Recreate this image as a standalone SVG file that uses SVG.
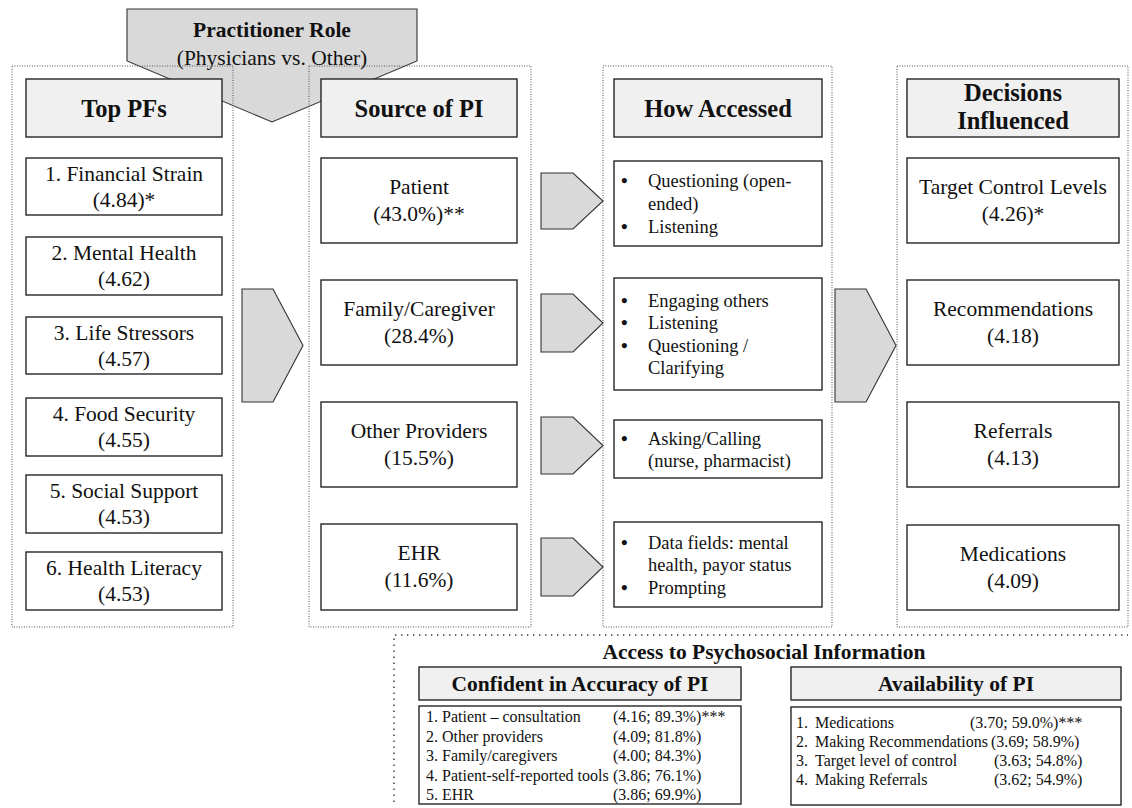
<svg xmlns="http://www.w3.org/2000/svg" width="1132" height="808" viewBox="0 0 1132 808">
  <style>
    text { font-family: "Liberation Serif", "Times New Roman", serif; fill: #111; }
    .t { font-size: 21.5px; text-anchor: middle; }
    .hb { font-size: 24.5px; font-weight: bold; text-anchor: middle; }
    .sb { font-size: 21.5px; font-weight: bold; text-anchor: middle; }
    .bl { font-size: 18.5px; }
    .dot { font-size: 19px; font-weight: bold; }
    .ls { font-size: 16px; }
    .box { fill: #fff; stroke: #262626; stroke-width: 1.4; }
    .head { fill: #f0f0f0; stroke: #262626; stroke-width: 1.4; }
    .wedge { fill: #d9d9d9; stroke: #333; stroke-width: 1.1; stroke-linejoin: miter; }
    .frame { fill: none; stroke: #555; stroke-width: 1; stroke-dasharray: 1 1.5; }
    .sparse { fill: none; stroke: #333; stroke-width: 1.4; stroke-dasharray: 1.4 4.6; }
  </style>

  <!-- moderator: practitioner role -->
  <g id="practitioner-role">
    <polygon class="wedge" points="127,9 417,9 417,61 272,122 127,61"/>
    <text class="sb" x="272" y="37">Practitioner Role</text>
    <text class="t" x="272" y="65">(Physicians vs. Other)</text>
  </g>

  <!-- column frames -->
  <g id="frames">
    <rect class="frame" x="12" y="66" width="221" height="561"/>
    <rect class="frame" x="309" y="66" width="222" height="561"/>
    <rect class="frame" x="603" y="66" width="229" height="561"/>
    <rect class="frame" x="897" y="66" width="231" height="561"/>
  </g>

  <!-- column 1: top psychosocial factors -->
  <g id="col-top-pfs">
    <g id="hdr-top-pfs"><rect class="head" x="26" y="79" width="196" height="58"/><text class="hb" x="124" y="116.5">Top PFs</text></g>
    <g id="pf-1"><rect class="box" x="26" y="158" width="196" height="57"/><text class="t" x="124" y="181">1. Financial Strain</text><text class="t" x="124" y="207">(4.84)*</text></g>
    <g id="pf-2"><rect class="box" x="26" y="237" width="196" height="58"/><text class="t" x="124" y="260">2. Mental Health</text><text class="t" x="124" y="286">(4.62)</text></g>
    <g id="pf-3"><rect class="box" x="26" y="317" width="196" height="57"/><text class="t" x="124" y="340">3. Life Stressors</text><text class="t" x="124" y="366">(4.57)</text></g>
    <g id="pf-4"><rect class="box" x="26" y="398" width="196" height="58"/><text class="t" x="124" y="421">4. Food Security</text><text class="t" x="124" y="447">(4.55)</text></g>
    <g id="pf-5"><rect class="box" x="26" y="475" width="196" height="58"/><text class="t" x="124" y="498">5. Social Support</text><text class="t" x="124" y="524">(4.53)</text></g>
    <g id="pf-6"><rect class="box" x="26" y="552" width="196" height="58"/><text class="t" x="124" y="575">6. Health Literacy</text><text class="t" x="124" y="601">(4.53)</text></g>
  </g>

  <!-- column 2: source of PI -->
  <g id="col-source">
    <g id="hdr-source"><rect class="head" x="321" y="79" width="196" height="58"/><text class="hb" x="419" y="116.5">Source of PI</text></g>
    <g id="src-patient"><rect class="box" x="321" y="158" width="196" height="85"/><text class="t" x="419" y="194">Patient</text><text class="t" x="419" y="221">(43.0%)**</text></g>
    <g id="src-family"><rect class="box" x="321" y="280" width="196" height="85"/><text class="t" x="419" y="316">Family/Caregiver</text><text class="t" x="419" y="343">(28.4%)</text></g>
    <g id="src-providers"><rect class="box" x="321" y="402" width="196" height="85"/><text class="t" x="419" y="438">Other Providers</text><text class="t" x="419" y="465">(15.5%)</text></g>
    <g id="src-ehr"><rect class="box" x="321" y="524" width="196" height="86"/><text class="t" x="419" y="560">EHR</text><text class="t" x="419" y="587">(11.6%)</text></g>
  </g>

  <!-- column 3: how accessed -->
  <g id="col-access">
    <g id="hdr-access"><rect class="head" x="614" y="79" width="208" height="58"/><text class="hb" x="718" y="116.5">How Accessed</text></g>
    <g id="acc-patient"><rect class="box" x="614" y="161" width="208" height="85"/>
      <text class="dot" x="621" y="187">•</text><text class="bl" x="648" y="187">Questioning (open-</text>
      <text class="bl" x="648" y="210">ended)</text>
      <text class="dot" x="621" y="233">•</text><text class="bl" x="648" y="233">Listening</text></g>
    <g id="acc-family"><rect class="box" x="614" y="278" width="208" height="112"/>
      <text class="dot" x="621" y="307">•</text><text class="bl" x="648" y="307">Engaging others</text>
      <text class="dot" x="621" y="329">•</text><text class="bl" x="648" y="329">Listening</text>
      <text class="dot" x="621" y="352">•</text><text class="bl" x="648" y="352">Questioning /</text>
      <text class="bl" x="648" y="374">Clarifying</text></g>
    <g id="acc-providers"><rect class="box" x="614" y="420" width="208" height="58"/>
      <text class="dot" x="621" y="445">•</text><text class="bl" x="648" y="445">Asking/Calling</text>
      <text class="bl" x="648" y="467">(nurse, pharmacist)</text></g>
    <g id="acc-ehr"><rect class="box" x="614" y="522" width="208" height="85"/>
      <text class="dot" x="621" y="549">•</text><text class="bl" x="648" y="549">Data fields: mental</text>
      <text class="bl" x="648" y="571">health, payor status</text>
      <text class="dot" x="621" y="594">•</text><text class="bl" x="648" y="594">Prompting</text></g>
  </g>

  <!-- column 4: decisions influenced -->
  <g id="col-decisions">
    <g id="hdr-decisions"><rect class="head" x="907" y="79" width="212" height="58"/><text class="hb" x="1013" y="101">Decisions</text><text class="hb" x="1013" y="129">Influenced</text></g>
    <g id="dec-target"><rect class="box" x="907" y="158" width="212" height="85"/><text class="t" x="1013" y="194">Target Control Levels</text><text class="t" x="1013" y="221">(4.26)*</text></g>
    <g id="dec-recs"><rect class="box" x="907" y="280" width="212" height="85"/><text class="t" x="1013" y="316">Recommendations</text><text class="t" x="1013" y="343">(4.18)</text></g>
    <g id="dec-referrals"><rect class="box" x="907" y="402" width="212" height="85"/><text class="t" x="1013" y="438">Referrals</text><text class="t" x="1013" y="465">(4.13)</text></g>
    <g id="dec-meds"><rect class="box" x="907" y="525" width="212" height="85"/><text class="t" x="1013" y="561">Medications</text><text class="t" x="1013" y="588">(4.09)</text></g>
  </g>

  <!-- flow arrows between columns -->
  <g id="connectors">
    <polygon class="wedge" points="242,289 273,289 303,345.5 273,402 242,402"/>
    <polygon class="wedge" points="541,173 573,173 603,201 573,229 541,229"/>
    <polygon class="wedge" points="541,294 573,294 603,323 573,352 541,352"/>
    <polygon class="wedge" points="541,417 573,417 603,445.5 573,474 541,474"/>
    <polygon class="wedge" points="541,538 573,538 603,567 573,596 541,596"/>
    <polygon class="wedge" points="835,289 866,289 896,345.5 866,402 835,402"/>
  </g>

  <!-- access to psychosocial information panel -->
  <g id="access-panel">
    <polyline class="sparse" points="394,802 394,635 1128,635"/>
    <text class="sb" x="764" y="659">Access to Psychosocial Information</text>
    <g id="confidence">
      <rect class="head" x="419" y="667" width="322" height="33"/>
      <text class="sb" x="580" y="691">Confident in Accuracy of PI</text>
      <rect class="box" x="419" y="706" width="322" height="98"/>
      <text class="ls" x="426" y="722">1. Patient – consultation</text><text class="ls" x="613" y="722">(4.16; 89.3%)***</text>
      <text class="ls" x="426" y="742">2. Other providers</text><text class="ls" x="613" y="742">(4.09; 81.8%)</text>
      <text class="ls" x="426" y="761">3. Family/caregivers</text><text class="ls" x="613" y="761">(4.00; 84.3%)</text>
      <text class="ls" x="426" y="781">4. Patient-self-reported tools</text><text class="ls" x="613" y="781">(3.86; 76.1%)</text>
      <text class="ls" x="426" y="800">5. EHR</text><text class="ls" x="613" y="800">(3.86; 69.9%)</text>
    </g>
    <g id="availability">
      <rect class="head" x="791" y="667" width="330" height="33"/>
      <text class="sb" x="956" y="691">Availability of PI</text>
      <rect class="box" x="791" y="707" width="330" height="98"/>
      <text class="ls" x="796" y="728">1.</text><text class="ls" x="815" y="728">Medications</text><text class="ls" x="970" y="728">(3.70; 59.0%)***</text>
      <text class="ls" x="796" y="747">2.</text><text class="ls" x="815" y="747">Making Recommendations</text><text class="ls" x="991" y="747">(3.69; 58.9%)</text>
      <text class="ls" x="796" y="766">3.</text><text class="ls" x="815" y="766">Target level of control</text><text class="ls" x="994" y="766">(3.63; 54.8%)</text>
      <text class="ls" x="796" y="785">4.</text><text class="ls" x="815" y="785">Making Referrals</text><text class="ls" x="994" y="785">(3.62; 54.9%)</text>
    </g>
  </g>
</svg>
